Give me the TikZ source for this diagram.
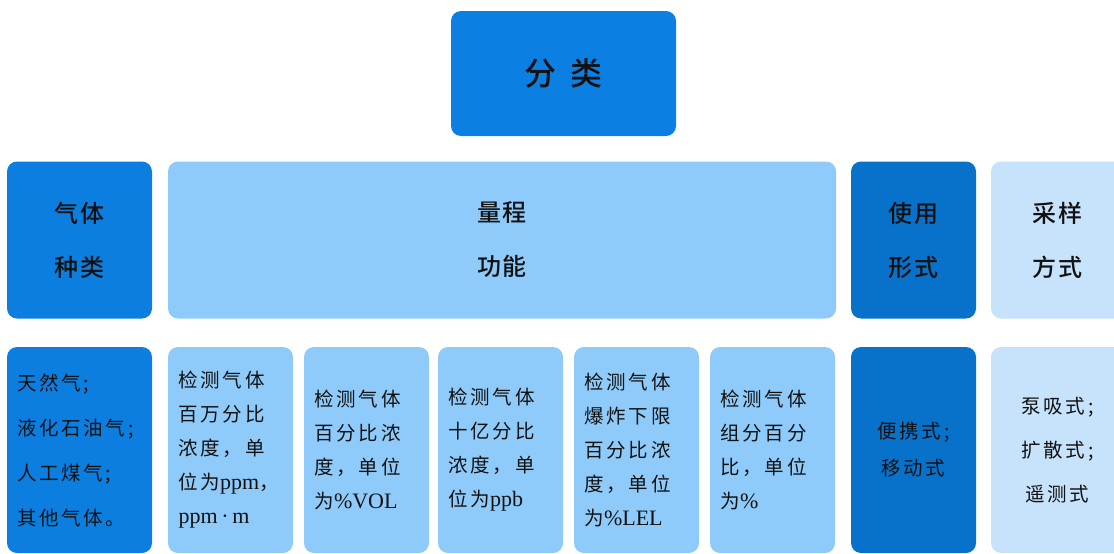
\documentclass[tikz,border=0pt]{standalone}
\usepackage{fontspec}
\setmainfont{Liberation Serif}
\newfontfamily\cjk[LetterSpace=8]{Noto Sans CJK SC}
\newfontfamily\cjkleaf[LetterSpace=14]{Noto Sans CJK SC}
\newfontfamily\cjkhead{Noto Sans CJK SC Medium}
\newfontfamily\lat{Liberation Serif}
\definecolor{cTop}{HTML}{0B80E2}
\definecolor{cGas}{HTML}{0C7EDF}
\definecolor{cRange}{HTML}{8ECBFA}
\definecolor{cUse}{HTML}{0871CA}
\definecolor{cSamp}{HTML}{C6E3FB}
\definecolor{cText}{HTML}{111111}
\tikzset{
  box/.style={rectangle, rounded corners=10pt, draw=none, inner sep=0pt, text=cText},
  topbox/.style={box, fill=cTop, minimum width=225, minimum height=125, font=\cjkhead\fontsize{32}{36}\selectfont},
  headbox/.style={box, minimum height=157, align=center, font=\cjkhead\fontsize{24}{54}\selectfont},
  leafbox/.style={box, minimum height=206, align=left, font=\cjkleaf\fontsize{19.5}{34}\selectfont},
  leafc/.style={box, minimum height=206, align=center, font=\cjkleaf\fontsize{19.5}{37}\selectfont},
  latin/.style={},
}
\newcommand{\lt}[1]{{\lat\fontsize{22}{34}\selectfont #1}}
\begin{document}
\begin{tikzpicture}[x=1pt,y=-1pt]
\useasboundingbox (0,0) rectangle (1114,554);
\node[topbox] (top) at (563.5,73.5) {分\hspace{14pt}类};
% row 2
\node[headbox, fill=cGas, minimum width=145] (gas) at (79.5,240) {气\hspace{2pt}体\\种\hspace{2pt}类};
\node[headbox, fill=cRange, minimum width=668] (range) at (502,240) {量\hspace{2pt}程\\功\hspace{2pt}能};
\node[headbox, fill=cUse, minimum width=125] (use) at (913.5,240) {使\hspace{2pt}用\\形\hspace{2pt}式};
\node[headbox, fill=cSamp, minimum width=133] (samp) at (1057.5,240) {采\hspace{2pt}样\\方\hspace{2pt}式};
% row 3
\node[leafbox, fill=cGas, minimum width=145, text width=125, font=\cjkleaf\fontsize{19.5}{45}\selectfont] (g1) at (79.5,450) {天然气;\\液化石油气;\\人工煤气;\\其他气体。};
\node[leafbox, fill=cRange, minimum width=125, text width=104] (r1) at (230.5,450) {检测气体\\百万分比\\浓度，单\\位为\lt{ppm}，\\\lt{ppm\,·\,m}};
\node[leafbox, fill=cRange, minimum width=125, text width=104] (r2) at (366.5,450) {检测气体\\百分比浓\\度，单位\\为\lt{\%VOL}};
\node[leafbox, fill=cRange, minimum width=125, text width=104] (r3) at (500.5,450) {检测气体\\十亿分比\\浓度，单\\位为\lt{ppb}};
\node[leafbox, fill=cRange, minimum width=125, text width=104] (r4) at (636.5,450) {检测气体\\爆炸下限\\百分比浓\\度，单位\\为\lt{\%LEL}};
\node[leafbox, fill=cRange, minimum width=125, text width=104] (r5) at (772.5,450) {检测气体\\组分百分\\比，单位\\为\lt{\%}};
\node[leafc, fill=cUse, minimum width=125] (u1) at (913.5,450) {便携式;\\移动式};
\node[leafc, fill=cSamp, minimum width=133, font=\cjkleaf\fontsize{19.5}{44}\selectfont] (s1) at (1057.5,450) {泵吸式;\\扩散式;\\遥测式};
\end{tikzpicture}
\end{document}
